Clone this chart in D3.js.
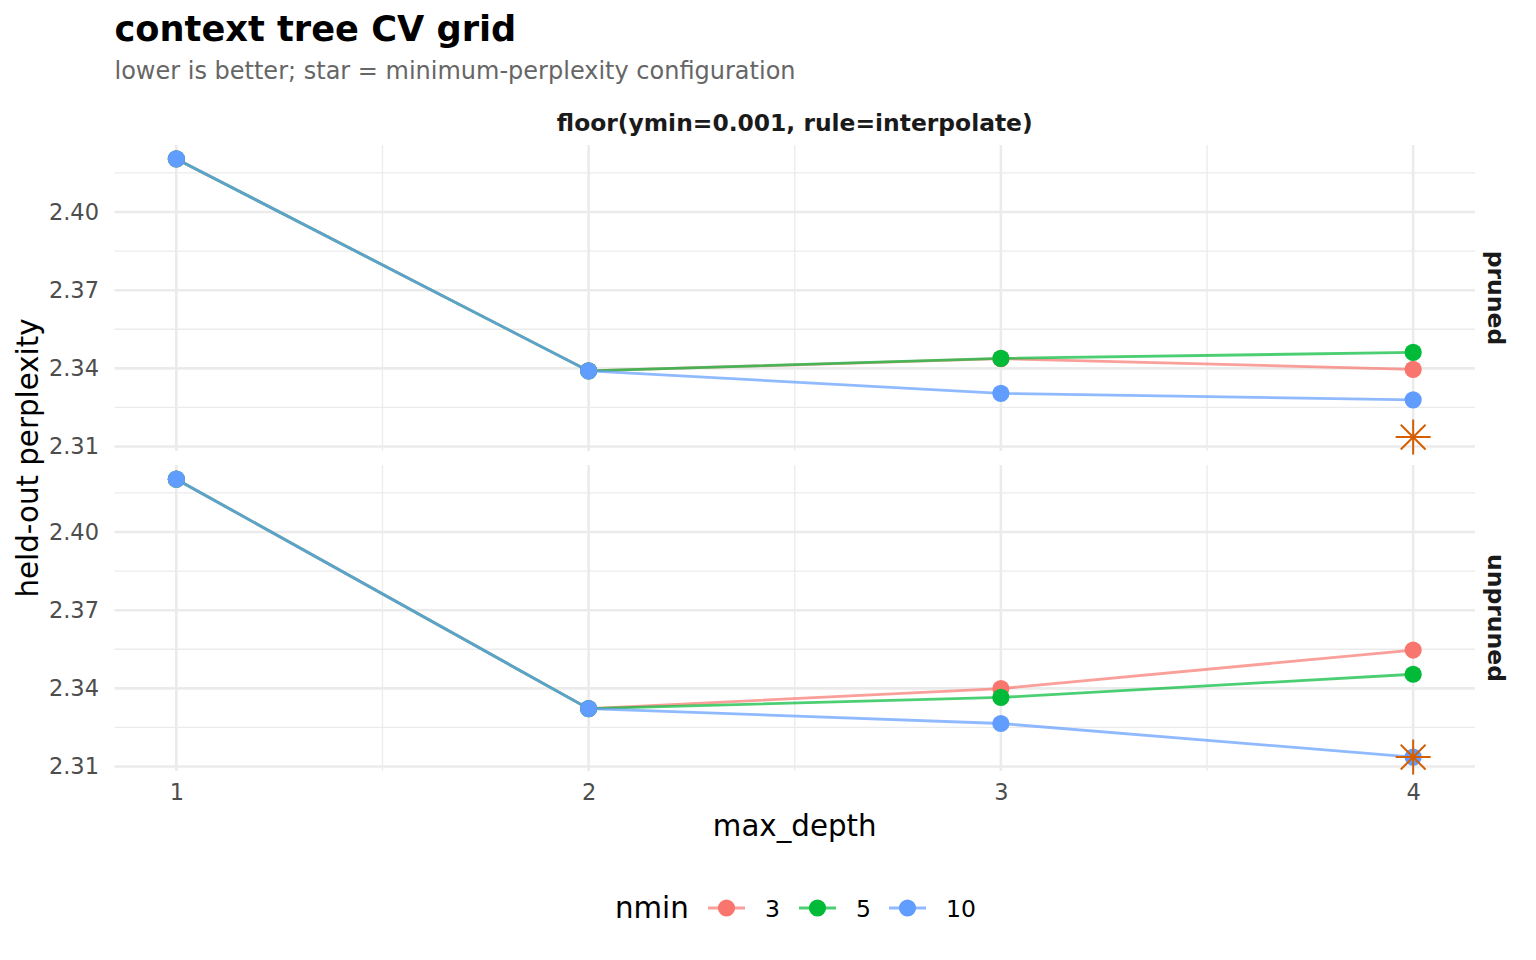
<!DOCTYPE html>
<html>
<head>
<meta charset="utf-8">
<script src="https://cdn.jsdelivr.net/npm/d3@7"></script>
<style>
  body { margin: 0; background: #fff; }
  text { font-family: "DejaVu Sans", sans-serif; }
</style>
</head>
<body>
<div id="chart-area"></div>
<script>
// data
var maxDepth = [1, 2, 3, 4];
var nminLevels = ["3", "5", "10"];
var facets = ["pruned", "unpruned"];
var yTicks = [2.31, 2.34, 2.37, 2.40];
var yMinor = [2.325, 2.355, 2.385, 2.415];
var xMinor = [1.5, 2.5, 3.5];

var prunedN3 = [2.4204, 2.3390, 2.3437, 2.3396];
var prunedN5 = [2.4204, 2.3390, 2.3438, 2.3461];
var prunedN10 = [2.4204, 2.3390, 2.3304, 2.3279];
var unprunedN3 = [2.4203, 2.3322, 2.3399, 2.3547];
var unprunedN5 = [2.4203, 2.3322, 2.3365, 2.3454];
var unprunedN10 = [2.4203, 2.3322, 2.3265, 2.3136];

var bestDepth = 4, bestPerplexity = 2.3136;

var colors = { "3": "#F8766D", "5": "#00BA38", "10": "#619CFF" };

var series = {
    pruned: { "3": prunedN3, "5": prunedN5, "10": prunedN10 },
    unpruned: { "3": unprunedN3, "5": unprunedN5, "10": unprunedN10 }
};

var W = 1536, H = 960;
var panel = { left: 114.5, right: 1475, top: 145, height: 306, gap: 14 };

var svg = d3.select("#chart-area")
    .append("svg")
    .attr("width", W)
    .attr("height", H);

var allVals = [].concat(prunedN3, prunedN5, prunedN10, unprunedN3, unprunedN5, unprunedN10);
var ext = d3.extent(allVals);
var pad = (ext[1] - ext[0]) * 0.05;

var x = d3.scaleLinear()
    .domain([0.85, 4.15])
    .range([panel.left, panel.right]);

var y = d3.scaleLinear()
    .domain([ext[0] - pad, ext[1] + pad])
    .range([panel.height, 0]);

// title
svg.append("text")
    .attr("x", panel.left).attr("y", 41)
    .style("font-size", "35.2px").style("font-weight", "bold")
    .attr("fill", "#000")
    .text("context tree CV grid");

svg.append("text")
    .attr("x", panel.left).attr("y", 79)
    .style("font-size", "24px")
    .attr("fill", "#666666")
    .text("lower is better; star = minimum-perplexity configuration");

// top strip
svg.append("text")
    .attr("x", (panel.left + panel.right) / 2).attr("y", 131)
    .attr("text-anchor", "middle")
    .style("font-size", "23.4px").style("font-weight", "bold")
    .attr("fill", "#1A1A1A")
    .text("floor(ymin=0.001, rule=interpolate)");

var line = d3.line()
    .x((d, i) => x(maxDepth[i]))
    .y(d => y(d));

facets.forEach(function(f, fi) {
    var top = panel.top + fi * (panel.height + panel.gap);
    var g = svg.append("g").attr("transform", "translate(0," + top + ")");

    // grid
    g.selectAll(".ymin").data(yMinor).enter().append("line")
        .attr("x1", panel.left).attr("x2", panel.right)
        .attr("y1", d => y(d)).attr("y2", d => y(d))
        .attr("stroke", "#EBEBEB").attr("stroke-width", 1.3);
    g.selectAll(".xmin").data(xMinor).enter().append("line")
        .attr("x1", d => x(d)).attr("x2", d => x(d))
        .attr("y1", 0).attr("y2", panel.height)
        .attr("stroke", "#EBEBEB").attr("stroke-width", 1.3);
    g.selectAll(".ymaj").data(yTicks).enter().append("line")
        .attr("x1", panel.left).attr("x2", panel.right)
        .attr("y1", d => y(d)).attr("y2", d => y(d))
        .attr("stroke", "#EBEBEB").attr("stroke-width", 2.6);
    g.selectAll(".xmaj").data(maxDepth).enter().append("line")
        .attr("x1", d => x(d)).attr("x2", d => x(d))
        .attr("y1", 0).attr("y2", panel.height)
        .attr("stroke", "#EBEBEB").attr("stroke-width", 2.6);

    // y axis labels
    var yAxis = d3.axisLeft(y).tickValues(yTicks).tickFormat(d3.format(".2f")).tickSize(0).tickPadding(0);
    var ya = g.append("g").attr("transform", "translate(99,0)").call(yAxis);
    ya.select(".domain").remove();
    ya.selectAll("text")
        .style("font-size", "22.5px")
        .style("font-family", "DejaVu Sans")
        .attr("fill", "#4D4D4D");

    // lines then points
    nminLevels.forEach(function(n) {
        g.append("path")
            .attr("d", line(series[f][n]))
            .attr("fill", "none")
            .attr("stroke", colors[n])
            .attr("stroke-opacity", 0.7)
            .attr("stroke-width", 2.8);
    });
    nminLevels.forEach(function(n) {
        g.selectAll(".pt" + n).data(series[f][n]).enter().append("circle")
            .attr("cx", (d, i) => x(maxDepth[i]))
            .attr("cy", d => y(d))
            .attr("r", 8.6)
            .attr("fill", colors[n]);
    });

    // star for the best configuration
    var sx = x(bestDepth), sy = y(bestPerplexity);
    var star = g.append("g").attr("transform", "translate(" + sx + "," + sy + ")")
        .attr("stroke", "#D55E00").attr("stroke-width", 2);
    var a = 17.5, b = 12.4;
    star.append("line").attr("x1", -a).attr("x2", a).attr("y1", 0).attr("y2", 0);
    star.append("line").attr("x1", 0).attr("x2", 0).attr("y1", -a).attr("y2", a);
    star.append("line").attr("x1", -b).attr("x2", b).attr("y1", -b).attr("y2", b);
    star.append("line").attr("x1", -b).attr("x2", b).attr("y1", b).attr("y2", -b);

    // right strip
    g.append("text")
        .attr("transform", "translate(1488," + (panel.height / 2) + ") rotate(90)")
        .attr("text-anchor", "middle")
        .style("font-size", "23.5px").style("font-weight", "bold")
        .attr("fill", "#1A1A1A")
        .text(f);
});

// x axis labels
var bottom = panel.top + 2 * panel.height + panel.gap;
var xAxis = d3.axisBottom(x).tickValues(maxDepth).tickFormat(d3.format("d")).tickSize(0).tickPadding(0);
var xa = svg.append("g").attr("transform", "translate(0," + (bottom + 13) + ")").call(xAxis);
xa.select(".domain").remove();
xa.selectAll("text")
    .style("font-size", "22.5px")
    .style("font-family", "DejaVu Sans")
    .attr("fill", "#4D4D4D");

// axis titles
svg.append("text")
    .attr("x", (panel.left + panel.right) / 2).attr("y", 836)
    .attr("text-anchor", "middle")
    .style("font-size", "29.3px")
    .text("max_depth");

svg.append("text")
    .attr("transform", "translate(38," + (panel.top + panel.height + panel.gap / 2) + ") rotate(-90)")
    .attr("text-anchor", "middle")
    .style("font-size", "29.3px")
    .text("held-out perplexity");

// legend
var legY = 908;
svg.append("text")
    .attr("x", 615).attr("y", legY + 10)
    .style("font-size", "29.3px")
    .text("nmin");

var legKeys = [
    { n: "3", x0: 708, tx: 765 },
    { n: "5", x0: 799, tx: 856 },
    { n: "10", x0: 889, tx: 946 }
];
legKeys.forEach(function(k) {
    svg.append("line")
        .attr("x1", k.x0).attr("x2", k.x0 + 37)
        .attr("y1", legY).attr("y2", legY)
        .attr("stroke", colors[k.n]).attr("stroke-opacity", 0.7)
        .attr("stroke-width", 2.8);
    svg.append("circle")
        .attr("cx", k.x0 + 18.5).attr("cy", legY).attr("r", 8.6)
        .attr("fill", colors[k.n]);
    svg.append("text")
        .attr("x", k.tx).attr("y", legY + 8.5)
        .style("font-size", "23.5px")
        .attr("fill", "#000")
        .text(k.n);
});
</script>
</body>
</html>
